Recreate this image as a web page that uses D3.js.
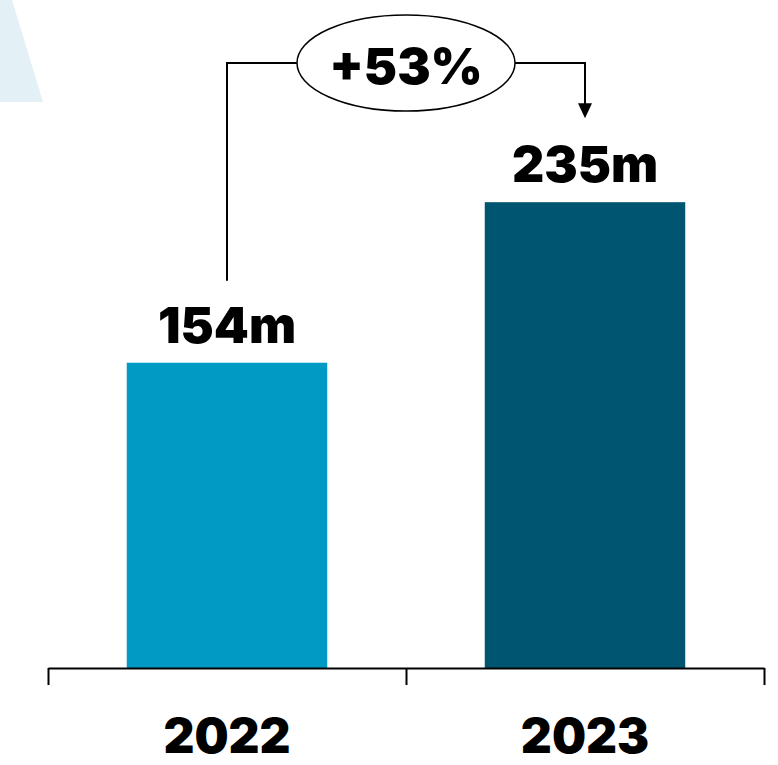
<!DOCTYPE html>
<html>
<head>
<meta charset="utf-8">
<script src="https://cdn.jsdelivr.net/npm/d3@7"></script>
<style>
  html, body { margin: 0; padding: 0; background: #fff; }
  svg { display: block; }
  text { font-family: Inter, "DejaVu Sans", sans-serif; font-weight: 900; fill: #000; }
</style>
</head>
<body>
<svg id="chart" width="778" height="765"></svg>
<script>
// Revenue by year
const years = ["2022", "2023"];
const values = [154, 235];
const valueLabels = ["154m", "235m"];
const barColors = ["#009ac4", "#005670"];
const growthLabel = "+53%";

const svg = d3.select("#chart");

// light decorative wedge in the top-left corner
svg.append("path")
  .attr("d", "M0,0 L12,0 L43,102 L0,102 Z")
  .attr("fill", "#e3f0f6");

const x = d3.scaleBand().domain(years).range([48, 764]).padding(0);
const y = d3.scaleLinear().domain([0, 337]).range([668, 0]);
const barW = x.bandwidth() * 0.56;

// bars
svg.selectAll("rect.bar")
  .data(years)
  .join("rect")
  .attr("class", "bar")
  .attr("x", d => x(d) + (x.bandwidth() - barW) / 2)
  .attr("width", barW)
  .attr("y", (d, i) => y(values[i]))
  .attr("height", (d, i) => y(0) - y(values[i]))
  .attr("fill", (d, i) => barColors[i]);

// value labels
svg.selectAll("text.val")
  .data(years)
  .join("text")
  .attr("class", "val")
  .attr("x", d => x(d) + x.bandwidth() / 2)
  .attr("y", (d, i) => y(values[i]) - 20)
  .attr("text-anchor", "middle")
  .attr("font-size", 50)
  .text((d, i) => valueLabels[i]);

// axis with ticks on the band boundaries
const edge = d3.scaleLinear().domain([0, years.length]).range(x.range());
const axis = svg.append("g").attr("transform", `translate(0,${y(0)})`)
  .call(d3.axisBottom(edge).tickValues(d3.range(years.length + 1)).tickSize(17).tickSizeOuter(0).tickFormat(""));
axis.select(".domain").attr("stroke", "#000").attr("stroke-width", 2);
axis.selectAll(".tick line").attr("stroke", "#000").attr("stroke-width", 2);

// year labels
svg.selectAll("text.year")
  .data(years)
  .join("text")
  .attr("class", "year")
  .attr("x", d => x(d) + x.bandwidth() / 2)
  .attr("y", 753)
  .attr("text-anchor", "middle")
  .attr("font-size", 48)
  .text(d => d);

// growth connector between the two bars
const cx0 = x(years[0]) + x.bandwidth() / 2;
const cx1 = x(years[1]) + x.bandwidth() / 2;
const topY = 63;
const ell = { cx: (x.range()[0] + x.range()[1]) / 2, cy: 63, rx: 109, ry: 48 };
const startY = y(values[0]) - 82;
const tipY = y(values[1]) - 84;

svg.append("path")
  .attr("d", `M${cx0},${startY} V${topY} H${ell.cx - ell.rx}`)
  .attr("fill", "none").attr("stroke", "#000").attr("stroke-width", 2);
svg.append("path")
  .attr("d", `M${ell.cx + ell.rx},${topY} H${cx1} V${tipY - 14}`)
  .attr("fill", "none").attr("stroke", "#000").attr("stroke-width", 2);
svg.append("path")
  .attr("d", `M${cx1 - 7},${tipY - 15} L${cx1 + 7},${tipY - 15} L${cx1},${tipY} Z`)
  .attr("fill", "#000");

svg.append("ellipse")
  .attr("cx", ell.cx).attr("cy", ell.cy).attr("rx", ell.rx).attr("ry", ell.ry)
  .attr("fill", "#fff").attr("stroke", "#000").attr("stroke-width", 1.5);

svg.append("text")
  .attr("x", ell.cx).attr("y", 84)
  .attr("text-anchor", "middle")
  .attr("font-size", 50)
  .text(growthLabel);
</script>
</body>
</html>
